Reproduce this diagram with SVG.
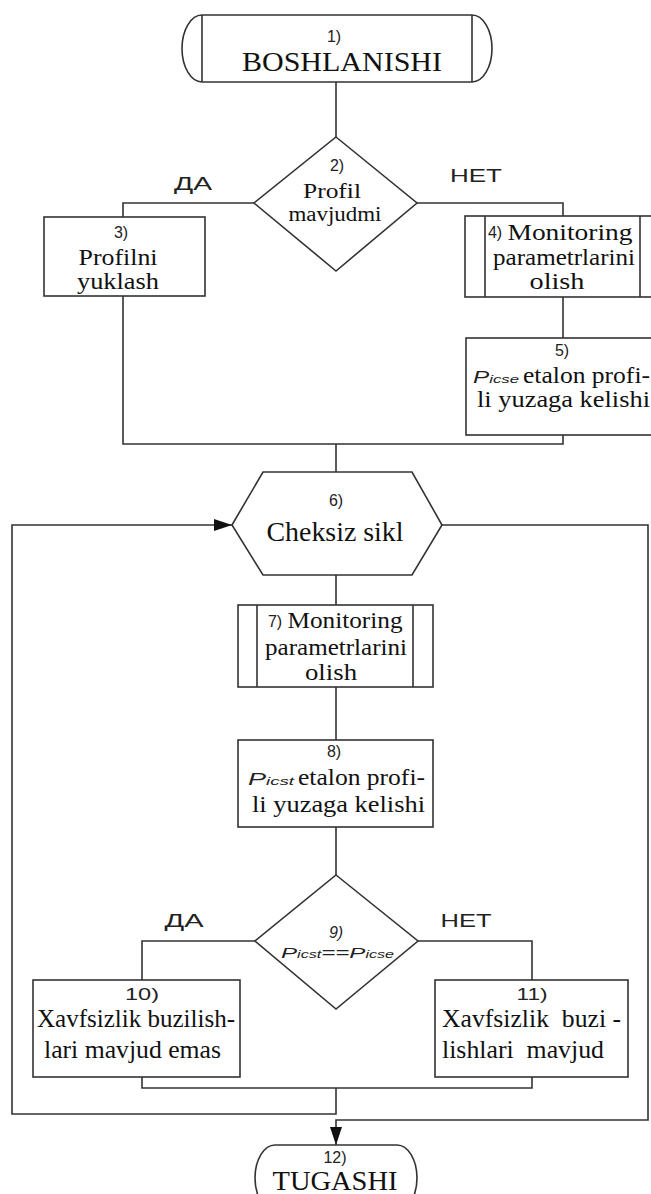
<svg xmlns="http://www.w3.org/2000/svg" width="651" height="1194" viewBox="0 0 651 1194">
<defs>
<marker id="arr" viewBox="0 0 18 12" refX="18" refY="6" markerWidth="18" markerHeight="12" orient="auto" markerUnits="userSpaceOnUse"><path d="M0,0 L18,6 L0,12 Z" fill="#111"/></marker>
<style>
.s{fill:#fff;stroke:#333;stroke-width:1.6}
.l{fill:none;stroke:#333;stroke-width:1.6}
.t{font-family:"Liberation Serif","Times New Roman",serif;fill:#111;text-anchor:middle}
.ts{font-family:"Liberation Serif","Times New Roman",serif;fill:#111;text-anchor:start}
.n{font-family:"Liberation Sans",Arial,sans-serif;fill:#222;text-anchor:middle;font-size:16px}
.lab{font-family:"Liberation Sans",Arial,sans-serif;fill:#222;text-anchor:middle;font-size:18px}
.it{font-family:"Liberation Sans",Arial,sans-serif;fill:#222;font-style:italic}
</style>
</defs>
<rect width="651" height="1194" fill="#fff"/>
<g id="connectors">
<path class="l" d="M336,82 V137"/>
<path class="l" d="M254,203 H123 V217"/>
<path class="l" d="M417,203 H563 V216"/>
<path class="l" d="M563,297 V338"/>
<path class="l" d="M563,435 V444 H123 V296"/>
<path class="l" d="M336,444 V472"/>
<path class="l" d="M336,575 V605"/>
<path class="l" d="M336,687 V740"/>
<path class="l" d="M336,827 V875"/>
<path class="l" d="M255,941 H142 V980"/>
<path class="l" d="M418,941 H532 V980"/>
<path class="l" d="M142,1077 V1088 H532 V1077"/>
<path class="l" d="M336,1088 V1114 H12 V525 H232" marker-end="url(#arr)"/>
<path class="l" d="M442,525 H648 V1120 H336 V1145" marker-end="url(#arr)"/>
<text class="lab" x="193" y="190" textLength="38" lengthAdjust="spacingAndGlyphs">ДА</text>
<text class="lab" x="476" y="182" textLength="52" lengthAdjust="spacingAndGlyphs">НЕТ</text>
<text class="lab" x="184" y="927" textLength="39" lengthAdjust="spacingAndGlyphs">ДА</text>
<text class="lab" x="466" y="927" textLength="51" lengthAdjust="spacingAndGlyphs">НЕТ</text>
</g>
<g id="node1">
<path class="s" d="M202,15 H472 A20,33.5 0 0 1 472,82 H202 A20,33.5 0 0 1 202,15 Z"/>
<path class="l" d="M202,15 V82 M472,15 V82"/>
<text class="n" x="334" y="42" font-size="17">1)</text>
<text class="t" x="342" y="71" font-size="27" textLength="200" lengthAdjust="spacingAndGlyphs">BOSHLANISHI</text>
</g>
<g id="node2">
<polygon class="s" points="336,137 417,203 336,271 254,203"/>
<text class="n" x="337" y="171">2)</text>
<text class="t" x="332" y="198" font-size="20" textLength="58" lengthAdjust="spacingAndGlyphs">Profil</text>
<text class="t" x="335" y="221" font-size="20" textLength="93" lengthAdjust="spacingAndGlyphs">mavjudmi</text>
</g>
<g id="node3">
<rect class="s" x="44" y="217" width="161" height="79"/>
<text class="n" x="121" y="238">3)</text>
<text class="t" x="118" y="265" font-size="24" textLength="79" lengthAdjust="spacingAndGlyphs">Profilni</text>
<text class="t" x="118" y="289" font-size="24" textLength="82" lengthAdjust="spacingAndGlyphs">yuklash</text>
</g>
<g id="node4">
<rect class="s" x="465" y="216" width="195" height="81"/>
<path class="l" d="M485,216 V297 M640,216 V297"/>
<text class="n" x="495" y="238" font-size="14">4)</text>
<text class="t" x="570" y="240" font-size="24" textLength="125" lengthAdjust="spacingAndGlyphs">Monitoring</text>
<text class="t" x="564" y="265" font-size="24" textLength="142" lengthAdjust="spacingAndGlyphs">parametrlarini</text>
<text class="t" x="557" y="289" font-size="24" textLength="55" lengthAdjust="spacingAndGlyphs">olish</text>
</g>
<g id="node5">
<rect class="s" x="466" y="338" width="188" height="97"/>
<text class="n" x="562" y="356">5)</text>
<text class="it" x="473" y="383" font-size="16" textLength="46" lengthAdjust="spacingAndGlyphs">P<tspan font-size="11">icse</tspan></text>
<text class="ts" x="523" y="383" font-size="24" textLength="127" lengthAdjust="spacingAndGlyphs">etalon profi-</text>
<text class="ts" x="477" y="407" font-size="24" textLength="173" lengthAdjust="spacingAndGlyphs">li yuzaga kelishi</text>
</g>
<g id="node6">
<polygon class="s" points="232,525 263,472 412,472 442,525 412,575 263,575"/>
<text class="n" x="336" y="506">6)</text>
<text class="t" x="335" y="541" font-size="28" textLength="137" lengthAdjust="spacingAndGlyphs">Cheksiz sikl</text>
</g>
<g id="node7">
<rect class="s" x="238" y="605" width="195" height="82"/>
<path class="l" d="M257,605 V687 M413,605 V687"/>
<text class="n" x="275" y="627" font-size="15">7)</text>
<text class="t" x="345" y="628" font-size="23" textLength="115" lengthAdjust="spacingAndGlyphs">Monitoring</text>
<text class="t" x="336" y="655" font-size="23" textLength="142" lengthAdjust="spacingAndGlyphs">parametrlarini</text>
<text class="t" x="331" y="680" font-size="23" textLength="52" lengthAdjust="spacingAndGlyphs">olish</text>
</g>
<g id="node8">
<rect class="s" x="238" y="740" width="195" height="87"/>
<text class="n" x="334" y="757">8)</text>
<text class="it" x="248" y="785" font-size="16" textLength="46" lengthAdjust="spacingAndGlyphs">P<tspan font-size="11">icst</tspan></text>
<text class="ts" x="298" y="785" font-size="24" textLength="127" lengthAdjust="spacingAndGlyphs">etalon profi-</text>
<text class="ts" x="252" y="812" font-size="24" textLength="173" lengthAdjust="spacingAndGlyphs">li yuzaga kelishi</text>
</g>
<g id="node9">
<polygon class="s" points="336,875 418,941 336,1009 255,941"/>
<text class="n" x="336" y="938" font-style="italic">9)</text>
<text class="it" x="281" y="958" font-size="15" textLength="113" lengthAdjust="spacingAndGlyphs">P<tspan font-size="10">icst</tspan>==P<tspan font-size="10">icse</tspan></text>
</g>
<g id="node10">
<rect class="s" x="33" y="980" width="207" height="97"/>
<text class="n" x="142" y="1000" textLength="34" lengthAdjust="spacingAndGlyphs">10)</text>
<text class="ts" x="37" y="1027" font-size="25" textLength="198" lengthAdjust="spacingAndGlyphs">Xavfsizlik buzilish-</text>
<text class="ts" x="44" y="1058" font-size="25" textLength="177" lengthAdjust="spacingAndGlyphs">lari mavjud emas</text>
</g>
<g id="node11">
<rect class="s" x="435" y="980" width="193" height="97"/>
<text class="n" x="532" y="1000" textLength="31" lengthAdjust="spacingAndGlyphs">11)</text>
<text class="ts" x="442" y="1027" font-size="25" textLength="179" lengthAdjust="spacingAndGlyphs" xml:space="preserve">Xavfsizlik  buzi -</text>
<text class="ts" x="442" y="1058" font-size="25" textLength="162" lengthAdjust="spacingAndGlyphs" xml:space="preserve">lishlari  mavjud</text>
</g>
<g id="node12">
<rect class="s" x="255" y="1145" width="162" height="66" rx="20" ry="33"/>
<text class="n" x="335" y="1163" font-size="17">12)</text>
<text class="t" x="335" y="1190" font-size="28" textLength="125" lengthAdjust="spacingAndGlyphs">TUGASHI</text>
</g>
</svg>
